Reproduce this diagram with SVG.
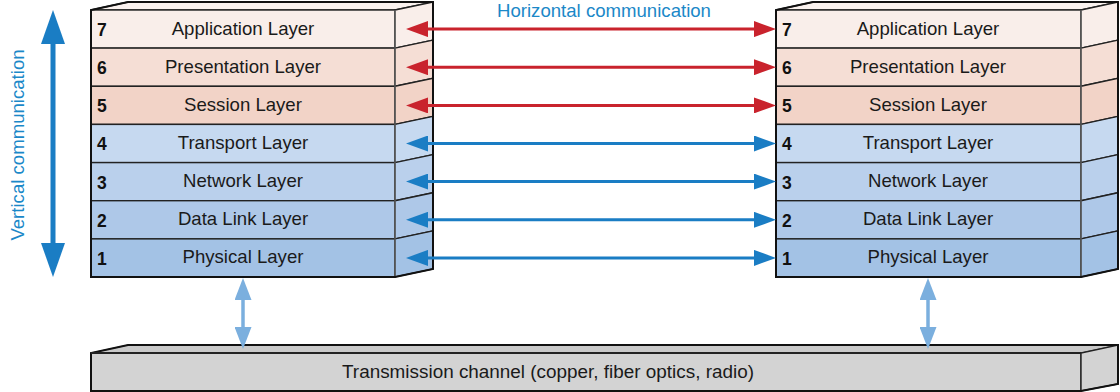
<svg xmlns="http://www.w3.org/2000/svg" width="1120" height="392" viewBox="0 0 1120 392">
<style>
.lbl{font-family:"Liberation Sans",Arial,sans-serif;font-size:18.6px;fill:#1a1a1a;text-anchor:middle}
.num{font-family:"Liberation Sans",Arial,sans-serif;font-size:17.5px;font-weight:bold;fill:#111}
.blue{font-family:"Liberation Sans",Arial,sans-serif;font-size:18.6px;fill:#1B88C8;text-anchor:middle}
.front{stroke:#222;stroke-width:1.4}
.side{stroke:#222;stroke-width:1.4}
.edge{stroke:#777;stroke-width:1;fill:none}
.outline{fill:none;stroke:#111;stroke-width:2;stroke-linejoin:miter}
.l7{fill:#F9EEEA}.l6{fill:#F5DED5}.l5{fill:#F2D3C7}.l4{fill:#C6D9F0}.l3{fill:#BAD0EC}.l2{fill:#AEC8E8}.l1{fill:#A3C2E5}
.red{stroke:#C9232D;stroke-width:3;fill:none}
.blu{stroke:#1A7DC4;stroke-width:3;fill:none}
.lb{stroke:#7BAFDE;stroke-width:3.5;fill:none}
.vb{stroke:#1A7DC4;stroke-width:5;fill:none}
</style>
<defs>
<marker id="hr" viewBox="0 0 22 16" refX="2" refY="8" markerWidth="22" markerHeight="16" markerUnits="userSpaceOnUse" orient="auto-start-reverse"><path d="M0,0 L22,8 L0,16 z" fill="#C9232D"/></marker>
<marker id="hb" viewBox="0 0 22 16" refX="2" refY="8" markerWidth="22" markerHeight="16" markerUnits="userSpaceOnUse" orient="auto-start-reverse"><path d="M0,0 L22,8 L0,16 z" fill="#1A7DC4"/></marker>
<marker id="hl" viewBox="0 0 22 17" refX="2" refY="8.5" markerWidth="22" markerHeight="17" markerUnits="userSpaceOnUse" orient="auto-start-reverse"><path d="M0,0 L22,8.5 L0,17 z" fill="#7BAFDE"/></marker>
<marker id="hv" viewBox="0 0 34 24" refX="4" refY="12" markerWidth="34" markerHeight="24" markerUnits="userSpaceOnUse" orient="auto-start-reverse"><path d="M0,0 L34,12 L0,24 z" fill="#1A7DC4"/></marker>
</defs>

<text class="blue" x="604" y="17">Horizontal communication</text>
<text class="blue" transform="translate(24,145) rotate(-90)">Vertical communication</text>

<!-- Left stack -->
<g id="left-stack">
<polygon points="91,10 128,2 433,2 395,10" fill="#FAF2EF" stroke="#222" stroke-width="1.4"/>
<g id="L7"><rect class="front l7" x="91" y="10" width="304" height="38.1"/><polygon class="side l7" points="395,10 433,2 433,40.1 395,48.1"/><text class="num" x="97" y="36">7</text><text class="lbl" x="243" y="34.5">Application Layer</text></g>
<g id="L6"><rect class="front l6" x="91" y="48.1" width="304" height="38.2"/><polygon class="side l6" points="395,48.1 433,40.1 433,78.3 395,86.3"/><text class="num" x="97" y="74.1">6</text><text class="lbl" x="243" y="72.6">Presentation Layer</text></g>
<g id="L5"><rect class="front l5" x="91" y="86.3" width="304" height="38.1"/><polygon class="side l5" points="395,86.3 433,78.3 433,116.4 395,124.4"/><text class="num" x="97" y="112.3">5</text><text class="lbl" x="243" y="110.8">Session Layer</text></g>
<g id="L4"><rect class="front l4" x="91" y="124.4" width="304" height="38.2"/><polygon class="side l4" points="395,124.4 433,116.4 433,154.6 395,162.6"/><text class="num" x="97" y="150.4">4</text><text class="lbl" x="243" y="148.9">Transport Layer</text></g>
<g id="L3"><rect class="front l3" x="91" y="162.6" width="304" height="38.1"/><polygon class="side l3" points="395,162.6 433,154.6 433,192.7 395,200.7"/><text class="num" x="97" y="188.6">3</text><text class="lbl" x="243" y="187.1">Network Layer</text></g>
<g id="L2"><rect class="front l2" x="91" y="200.7" width="304" height="38.2"/><polygon class="side l2" points="395,200.7 433,192.7 433,230.9 395,238.9"/><text class="num" x="97" y="226.7">2</text><text class="lbl" x="243" y="225.2">Data Link Layer</text></g>
<g id="L1"><rect class="front l1" x="91" y="238.9" width="304" height="38.1"/><polygon class="side l1" points="395,238.9 433,230.9 433,269 395,277"/><text class="num" x="97" y="264.9">1</text><text class="lbl" x="243" y="263.4">Physical Layer</text></g>
<line class="edge" x1="395" y1="10" x2="395" y2="277"/>
<path class="outline" d="M91,277 L91,10 L128,2 L433,2 L433,269 L395,277 Z"/>
</g>

<!-- Right stack -->
<g id="right-stack">
<polygon points="776,10 813,2 1118,2 1081,10" fill="#FAF2EF" stroke="#222" stroke-width="1.4"/>
<g id="R7"><rect class="front l7" x="776" y="10" width="305" height="38.1"/><polygon class="side l7" points="1081,10 1118,2 1118,40.1 1081,48.1"/><text class="num" x="782" y="36">7</text><text class="lbl" x="928" y="34.5">Application Layer</text></g>
<g id="R6"><rect class="front l6" x="776" y="48.1" width="305" height="38.2"/><polygon class="side l6" points="1081,48.1 1118,40.1 1118,78.3 1081,86.3"/><text class="num" x="782" y="74.1">6</text><text class="lbl" x="928" y="72.6">Presentation Layer</text></g>
<g id="R5"><rect class="front l5" x="776" y="86.3" width="305" height="38.1"/><polygon class="side l5" points="1081,86.3 1118,78.3 1118,116.4 1081,124.4"/><text class="num" x="782" y="112.3">5</text><text class="lbl" x="928" y="110.8">Session Layer</text></g>
<g id="R4"><rect class="front l4" x="776" y="124.4" width="305" height="38.2"/><polygon class="side l4" points="1081,124.4 1118,116.4 1118,154.6 1081,162.6"/><text class="num" x="782" y="150.4">4</text><text class="lbl" x="928" y="148.9">Transport Layer</text></g>
<g id="R3"><rect class="front l3" x="776" y="162.6" width="305" height="38.1"/><polygon class="side l3" points="1081,162.6 1118,154.6 1118,192.7 1081,200.7"/><text class="num" x="782" y="188.6">3</text><text class="lbl" x="928" y="187.1">Network Layer</text></g>
<g id="R2"><rect class="front l2" x="776" y="200.7" width="305" height="38.2"/><polygon class="side l2" points="1081,200.7 1118,192.7 1118,230.9 1081,238.9"/><text class="num" x="782" y="226.7">2</text><text class="lbl" x="928" y="225.2">Data Link Layer</text></g>
<g id="R1"><rect class="front l1" x="776" y="238.9" width="305" height="38.1"/><polygon class="side l1" points="1081,238.9 1118,230.9 1118,269 1081,277"/><text class="num" x="782" y="264.9">1</text><text class="lbl" x="928" y="263.4">Physical Layer</text></g>
<line class="edge" x1="1081" y1="10" x2="1081" y2="277"/>
<path class="outline" d="M776,277 L776,10 L813,2 L1118,2 L1118,269 L1081,277 Z"/>
</g>

<!-- Transmission channel -->
<g id="channel">
<polygon points="91,353 128,345 1118,345 1081,353" fill="#C9C9C9" stroke="#444" stroke-width="1.2"/>
<rect x="91" y="353" width="990" height="38" fill="#D3D3D3" stroke="#222" stroke-width="1.4"/>
<polygon points="1081,353 1118,345 1118,384 1081,391" fill="#D3D3D3" stroke="#222" stroke-width="1.4"/>
<path class="outline" d="M91,391 L91,353 L128,345 L1118,345 L1118,384 L1081,391 Z"/>
<line x1="91" y1="353" x2="1081" y2="353" stroke="#222" stroke-width="2.2"/>
<text class="lbl" x="548" y="378" style="font-size:18.9px">Transmission channel (copper, fiber optics, radio)</text>
</g>

<g id="connectors">
<line class="red" x1="426" y1="29.1" x2="756" y2="29.1" marker-start="url(#hr)" marker-end="url(#hr)"/>
<line class="red" x1="426" y1="67.2" x2="756" y2="67.2" marker-start="url(#hr)" marker-end="url(#hr)"/>
<line class="red" x1="426" y1="105.4" x2="756" y2="105.4" marker-start="url(#hr)" marker-end="url(#hr)"/>
<line class="blu" x1="426" y1="143.5" x2="756" y2="143.5" marker-start="url(#hb)" marker-end="url(#hb)"/>
<line class="blu" x1="426" y1="181.6" x2="756" y2="181.6" marker-start="url(#hb)" marker-end="url(#hb)"/>
<line class="blu" x1="426" y1="219.8" x2="756" y2="219.8" marker-start="url(#hb)" marker-end="url(#hb)"/>
<line class="blu" x1="426" y1="257.9" x2="756" y2="257.9" marker-start="url(#hb)" marker-end="url(#hb)"/>
<line class="vb" x1="53" y1="40" x2="53" y2="247" marker-start="url(#hv)" marker-end="url(#hv)"/>
<line class="lb" x1="243" y1="298" x2="243" y2="329" marker-start="url(#hl)" marker-end="url(#hl)"/>
<line class="lb" x1="928" y1="298" x2="928" y2="329" marker-start="url(#hl)" marker-end="url(#hl)"/>
</g>
</svg>
